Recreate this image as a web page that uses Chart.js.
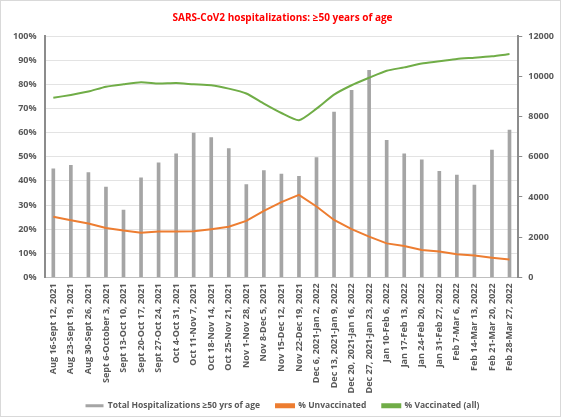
<!DOCTYPE html>
<html>
<head>
<meta charset="utf-8">
<script src="https://cdn.jsdelivr.net/npm/chart.js@4"></script>
<style>
  html, body { margin: 0; padding: 0; background: #fff; }
  #wrap { width: 559px; height: 415px; border: 1px solid #d9d9d9; }
</style>
</head>
<body>
<div id="wrap"><canvas id="myChart" width="559" height="415"></canvas></div>
<script>
const weeks = [
  "Aug 16-Sept 12, 2021", "Aug 23-Sept 19, 2021", "Aug 30-Sept 26, 2021",
  "Sept 6-October 3, 2021", "Sept 13-Oct 10, 2021", "Sept 20-Oct 17, 2021",
  "Sept 27-Oct 24, 2021", "Oct 4-Oct 31, 2021", "Oct 11-Nov 7, 2021",
  "Oct 18-Nov 14, 2021", "Oct 25-Nov 21, 2021", "Nov 1-Nov 28, 2021",
  "Nov 8-Dec 5, 2021", "Nov 15-Dec 12, 2021", "Nov 22-Dec 19, 2021",
  "Dec 6, 2021-Jan 2, 2022", "Dec 13, 2021-Jan 9, 2022", "Dec 20, 2021-Jan 16, 2022",
  "Dec 27, 2021-Jan 23, 2022", "Jan 10-Feb 6, 2022", "Jan 17-Feb 13, 2022",
  "Jan 24-Feb 20, 2022", "Jan 31-Feb 27, 2022", "Feb 7-Mar 6, 2022",
  "Feb 14-Mar 13, 2022", "Feb 21-Mar 20, 2022", "Feb 28-Mar 27, 2022"
];

const hospitalizations = [
  5400, 5570, 5210, 4490, 3350, 4950, 5690, 6140, 7180,
  6950, 6410, 4620, 5310, 5140, 5020, 5960, 8220, 9300,
  10290, 6810, 6140, 5840, 5270, 5090, 4590, 6330, 7330
];

const pctUnvaccinated = [
  25.1, 23.7, 22.3, 20.5, 19.4, 18.5, 19.0, 19.0, 19.1,
  20.0, 21.0, 23.4, 27.6, 31.2, 34.2, 29.4, 23.8, 20.0,
  16.9, 14.1, 13.0, 11.4, 10.7, 9.6, 9.1, 8.2, 7.4
];

const pctVaccinated = [
  74.4, 75.6, 77.0, 79.0, 80.0, 80.8, 80.3, 80.5, 80.0,
  79.6, 78.2, 76.2, 72.0, 68.1, 65.1, 69.9, 75.7, 79.6,
  82.7, 85.6, 87.0, 88.6, 89.5, 90.5, 91.0, 91.6, 92.5
];

const pctTicks = [0, 10, 20, 30, 40, 50, 60, 70, 80, 90, 100];
const countTicks = [0, 2000, 4000, 6000, 8000, 10000, 12000];

const txt = "#595959";
const font = "'Open Sans', 'Liberation Sans', sans-serif";

// pull the legend back up after layout, so the plot can use the space above it
const legendShift = {
  id: "legendShift",
  afterLayout(chart) {
    chart.legend.top -= 14;
    chart.legend.bottom -= 14;
  },
};

const ctx = document.getElementById("myChart").getContext("2d");
const myChart = new Chart(ctx, {
  data: {
    labels: weeks,
    datasets: [
      {
        type: "bar",
        label: "Total Hospitalizations \u226550 yrs of age",
        data: hospitalizations,
        yAxisID: "y1",
        backgroundColor: "#a5a5a5",
        barThickness: 3,
        order: 3,
      },
      {
        type: "line",
        label: "% Unvaccinated",
        data: pctUnvaccinated,
        yAxisID: "y",
        borderColor: "#ed7d31",
        backgroundColor: "#ed7d31",
        borderWidth: 2,
        pointRadius: 0,
        tension: 0,
        order: 1,
      },
      {
        type: "line",
        label: "% Vaccinated (all)",
        data: pctVaccinated,
        yAxisID: "y",
        borderColor: "#70ad47",
        backgroundColor: "#70ad47",
        borderWidth: 2,
        pointRadius: 0,
        tension: 0.2,
        order: 2,
      },
    ],
  },
  plugins: [legendShift],
  options: {
    responsive: false,
    animation: false,
    layout: { padding: { left: 4, right: 0, top: 4, bottom: -18 } },
    scales: {
      x: {
        grid: { display: false, drawTicks: false },
        border: { color: "#bfbfbf", width: 1 },
        ticks: {
          color: txt,
          font: { family: font, size: 9, weight: "bold" },
          minRotation: 90,
          maxRotation: 90,
          autoSkip: false,
          padding: 6,
        },
      },
      y: {
        position: "left",
        min: 0,
        max: 100,
        afterBuildTicks: (axis) => { axis.ticks = pctTicks.map((v) => ({ value: v })); },
        grid: { color: "#e3e3e3", drawTicks: false },
        border: { color: "#8c8c8c", width: 2 },
        ticks: {
          color: txt,
          font: { family: font, size: 9, weight: "bold" },
          padding: 8,
          callback: (v) => v + "%",
        },
      },
      y1: {
        position: "right",
        min: 0,
        max: 12000,
        afterBuildTicks: (axis) => { axis.ticks = countTicks.map((v) => ({ value: v })); },
        grid: { drawOnChartArea: false, color: "#8c8c8c", tickLength: 4 },
        border: { color: "#8c8c8c", width: 2 },
        ticks: {
          color: txt,
          font: { family: font, size: 9, weight: "bold" },
          padding: 6,
          callback: (v) => String(v),
        },
      },
    },
    plugins: {
      title: {
        display: true,
        text: "SARS-CoV2 hospitalizations: \u226550 years of age",
        color: "#ff0000",
        font: { family: font, size: 10, weight: "bold" },
        padding: { top: 7, bottom: 12 },
      },
      legend: {
        position: "bottom",
        labels: {
          color: txt,
          font: { family: font, size: 8.5, weight: "bold" },
          boxWidth: 18,
          boxHeight: 3,
          padding: 16,
          sort: (a, b) => a.datasetIndex - b.datasetIndex,
        },
      },
      tooltip: { enabled: false },
    },
  },
});
</script>
</body>
</html>
